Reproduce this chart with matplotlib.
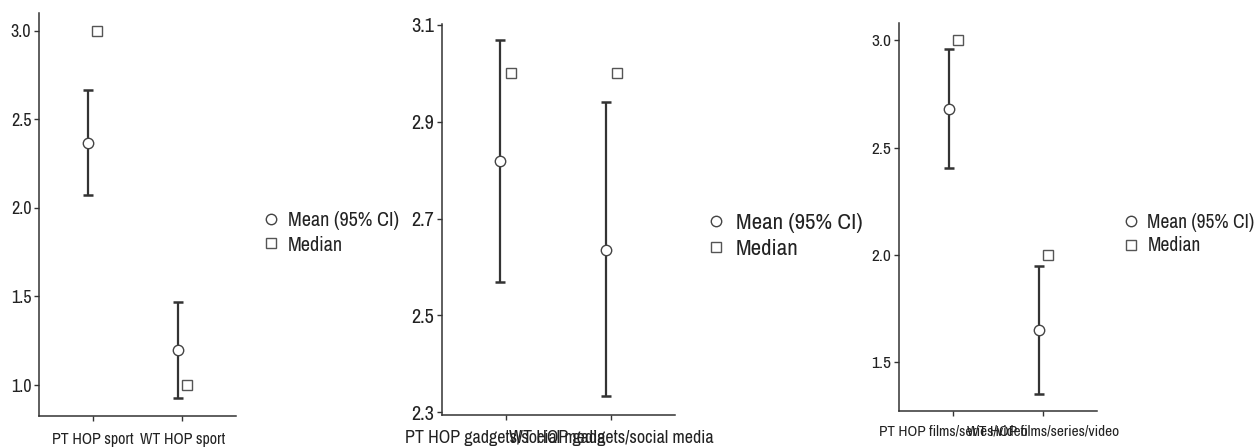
import matplotlib
matplotlib.use("Agg")
import matplotlib.pyplot as plt
from matplotlib.lines import Line2D
import logging
logging.getLogger('matplotlib.font_manager').setLevel(logging.ERROR)

plt.rcParams['font.family'] = ['Archivo Narrow', 'Roboto Condensed', 'Liberation Sans', 'DejaVu Sans']

# ---- data ----
cats_sport = ["PT HOP sport", "WT HOP sport"]
mean_sport = [2.365, 1.20]
lo_sport = [2.07, 0.925]
hi_sport = [2.665, 1.47]
median_sport = [3.0, 1.0]

cats_gadgets = ["PT HOP gadgets/social media", "WT HOP gadgets/social media"]
mean_gadgets = [2.818, 2.636]
lo_gadgets = [2.569, 2.334]
hi_gadgets = [3.068, 2.940]
median_gadgets = [3.0, 3.0]

cats_films = ["PT HOP films/series/video", "WT HOP films/series/video"]
mean_films = [2.681, 1.652]
lo_films = [2.403, 1.354]
hi_films = [2.961, 1.949]
median_films = [3.0, 2.0]

yticks_sport = [1.0, 1.5, 2.0, 2.5, 3.0]
yticks_gadgets = [2.3, 2.5, 2.7, 2.9, 3.1]
yticks_films = [1.5, 2.0, 2.5, 3.0]

legend_labels = ["Mean (95% CI)", "Median"]

W, H = 1256, 448
fig = plt.figure(figsize=(W / 100, H / 100), dpi=100)

LINE = '#333333'
MED = '#555555'


def px_axes(left, right, top, bottom):
    return fig.add_axes([left / W, (H - bottom) / H, (right - left) / W, (bottom - top) / H])


def panel(box, cats, means, los, his, meds, yticks, ylim, yfs, xfs, xpad, legx, legy, legfs):
    ax = px_axes(*box)
    x = list(range(1, len(cats) + 1))
    xm = [v - 0.05 for v in x]
    xd = [v + 0.05 for v in x]
    yerr = [[m - l for m, l in zip(means, los)], [h - m for m, h in zip(means, his)]]
    ax.errorbar(xm, means, yerr=yerr, fmt='none', ecolor=LINE, elinewidth=1.6,
                capsize=3.3, capthick=1.8, zorder=2)
    ax.plot(xm, means, 'o', ms=7.5, mfc='white', mec='#444444', mew=1.0, zorder=3, ls='none')
    ax.plot(xd, meds, 's', ms=6.5, mfc='white', mec=MED, mew=1.0, zorder=3, ls='none')
    ax.set_xlim(0.4, 2.6)
    ax.set_ylim(*ylim)
    ax.set_xticks(x)
    ax.set_xticklabels(cats)
    ax.set_yticks(yticks)
    ax.set_yticklabels([f"{t:.1f}" for t in yticks])
    for s in ['top', 'right']:
        ax.spines[s].set_visible(False)
    for s in ['left', 'bottom']:
        ax.spines[s].set_color(LINE)
        ax.spines[s].set_linewidth(1.1)
    ax.tick_params(axis='both', colors=LINE, labelcolor='#222222',
                   length=3.5, width=1.0)
    ax.tick_params(axis='x', pad=xpad, labelsize=xfs)
    ax.tick_params(axis='y', pad=2, labelsize=yfs)
    ax.patch.set_alpha(0)

    handles = [Line2D([], [], marker='o', ls='none', ms=7.5, mfc='white', mec='#444444', mew=1.0),
               Line2D([], [], marker='s', ls='none', ms=6.5, mfc='white', mec=MED, mew=1.0)]
    leg = fig.legend(handles, legend_labels, loc='center left',
                     bbox_to_anchor=(legx / W, 1 - legy / H), frameon=False,
                     fontsize=legfs, handlelength=0.8, handletextpad=0.45,
                     labelspacing=0.25, borderpad=0, borderaxespad=0)
    for t in leg.get_texts():
        t.set_color('#222222')
    return ax


panel((39, 236, 13, 416), cats_sport, mean_sport, lo_sport, hi_sport, median_sport,
      yticks_sport, (0.825, 3.10), 13, 11.5, 8, 263, 233, 14.5)
panel((442, 675, 24, 415), cats_gadgets, mean_gadgets, lo_gadgets, hi_gadgets, median_gadgets,
      yticks_gadgets, (2.294, 3.102), 14.5, 13, 7, 707, 236, 16.5)
panel((899, 1097, 23, 411), cats_films, mean_films, lo_films, hi_films, median_films,
      yticks_films, (1.273, 3.081), 12.5, 11, 6, 1123, 234, 14)

fig.savefig("out.png", dpi=100)
